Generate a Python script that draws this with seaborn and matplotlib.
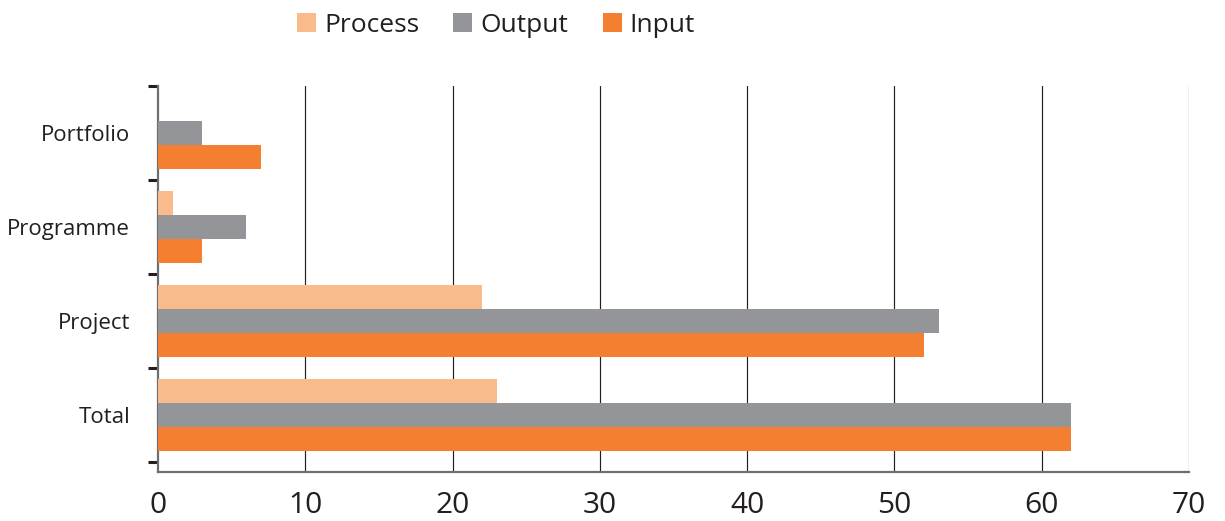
import matplotlib
matplotlib.use("Agg")
import matplotlib.pyplot as plt
from matplotlib.patches import Patch
from matplotlib.ticker import FixedLocator
import pandas as pd
import seaborn as sns

categories = ["Portfolio", "Programme", "Project", "Total"]
series = ["Process", "Output", "Input"]
process_vals = [0, 1, 22, 23]
output_vals = [3, 6, 53, 62]
input_vals = [7, 3, 52, 62]
x_ticks = [0, 10, 20, 30, 40, 50, 60, 70]

colors = {"Process": "#F9BB8C", "Output": "#939598", "Input": "#F47F31"}
text_color = "#231F20"

rows = []
for name, vals in zip(series, [process_vals, output_vals, input_vals]):
    for cat, v in zip(categories, vals):
        rows.append({"category": cat, "series": name, "value": v})
df = pd.DataFrame(rows)

sns.set_style("white")
plt.rcParams["font.family"] = ["Open Sans", "DejaVu Sans"]

fig = plt.figure(figsize=(12.25, 5.21), dpi=100)
ax = fig.add_axes([158 / 1225, 49 / 521, (1189 - 158) / 1225, (472 - 86) / 521])

sns.barplot(data=df, x="value", y="category", hue="series",
            order=categories, hue_order=series, palette=colors,
            saturation=1, orient="h", width=0.77, dodge=True, errorbar=None,
            edgecolor="none", linewidth=0, ax=ax, zorder=3)

if ax.get_legend() is not None:
    ax.get_legend().remove()

ax.set_xlim(0, 70)
ax.set_ylim(3.5 + 0.106, -0.5)
ax.set_xticks(x_ticks)
ax.set_xticklabels([str(t) for t in x_ticks], fontsize=21.5, color=text_color)
ax.tick_params(axis="x", length=0, pad=14)

ax.set_yticks(range(len(categories)))
ax.set_yticklabels(categories, fontsize=16, color=text_color)
ax.yaxis.set_minor_locator(FixedLocator([-0.5, 0.5, 1.5, 2.5, 3.5]))
ax.tick_params(axis="y", which="major", length=0, pad=20)
ax.tick_params(axis="y", which="minor", length=7, width=2.2, color="#231F20", left=True)

ax.set_xlabel("")
ax.set_ylabel("")

for t in x_ticks[1:]:
    ax.axvline(t, color="#231F20" if t < 70 else "#6D6E71", linewidth=0.85, zorder=1)

for side in ["top", "right"]:
    ax.spines[side].set_visible(False)
for side in ["left", "bottom"]:
    ax.spines[side].set_visible(True)
    ax.spines[side].set_color("#6D6E71")
    ax.spines[side].set_linewidth(1.6)

handles = [Patch(facecolor=colors[s], edgecolor="none", label=s) for s in series]
fig.legend(handles=handles, loc="center", bbox_to_anchor=(496 / 1225, 1 - 25 / 521),
           ncol=3, frameon=False, fontsize=19, handlelength=0.72, handleheight=0.72,
           handletextpad=0.3, columnspacing=1.3, labelcolor=text_color)

fig.savefig("out.png", dpi=100, facecolor="white")
